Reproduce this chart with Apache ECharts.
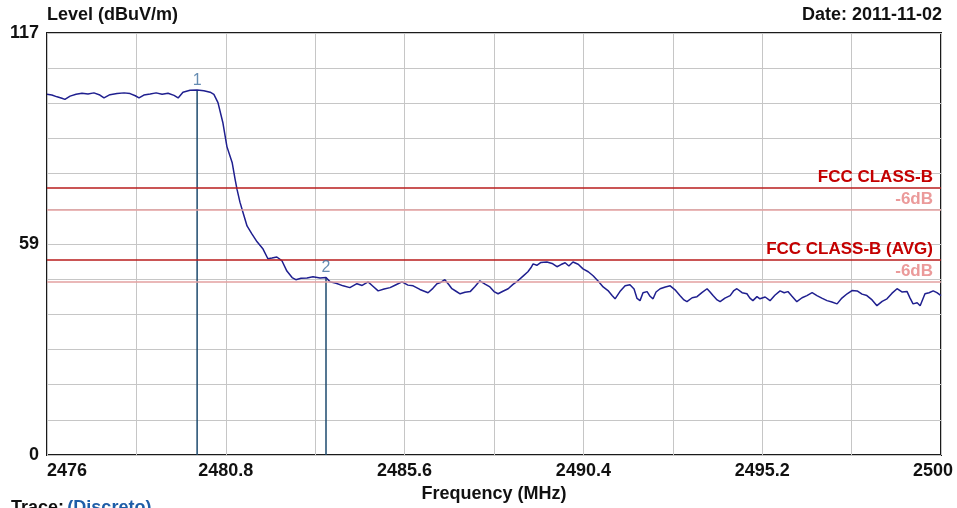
<!DOCTYPE html>
<html>
<head>
<meta charset="utf-8">
<script src="https://cdn.jsdelivr.net/npm/echarts@6/dist/echarts.min.js"></script>
<style>
  html, body { margin: 0; padding: 0; background: #fff; }
  #chart { width: 957px; height: 508px; }
</style>
</head>
<body>
<div id="chart"></div>
<script>
// trace readings (MHz, dBuV/m)
var freqs = [
  2476.00, 2476.13, 2476.27, 2476.40, 2476.48, 2476.62, 2476.78, 2476.94, 2477.10, 2477.26,
  2477.42, 2477.53, 2477.69, 2477.88, 2478.07, 2478.23, 2478.37, 2478.47, 2478.60, 2478.77,
  2478.93, 2479.09, 2479.25, 2479.41, 2479.52, 2479.65, 2479.84, 2480.03, 2480.21, 2480.38,
  2480.48, 2480.59, 2480.72, 2480.83, 2480.97, 2481.05, 2481.10, 2481.18, 2481.26, 2481.37,
  2481.50, 2481.64, 2481.80, 2481.93, 2482.04, 2482.17, 2482.31, 2482.44, 2482.58, 2482.68,
  2482.82, 2482.98, 2483.14, 2483.33, 2483.49, 2483.60, 2483.76, 2483.95, 2484.13, 2484.32,
  2484.46, 2484.62, 2484.75, 2484.89, 2485.05, 2485.21, 2485.37, 2485.53, 2485.69, 2485.83,
  2486.01, 2486.23, 2486.36, 2486.47, 2486.58, 2486.68, 2486.79, 2486.87, 2486.98, 2487.09,
  2487.22, 2487.36, 2487.49, 2487.62, 2487.76, 2487.89, 2488.00, 2488.11, 2488.24, 2488.38,
  2488.51, 2488.64, 2488.78, 2488.91, 2488.99, 2489.05, 2489.15, 2489.26, 2489.42, 2489.56,
  2489.69, 2489.80, 2489.91, 2490.01, 2490.12, 2490.26, 2490.39, 2490.53, 2490.66, 2490.80,
  2490.93, 2491.06, 2491.17, 2491.25, 2491.38, 2491.52, 2491.65, 2491.76, 2491.84, 2491.92,
  2492.00, 2492.11, 2492.19, 2492.27, 2492.35, 2492.46, 2492.60, 2492.73, 2492.86, 2492.99,
  2493.10, 2493.18, 2493.32, 2493.45, 2493.58, 2493.72, 2493.80, 2493.88, 2493.99, 2494.07,
  2494.20, 2494.34, 2494.44, 2494.52, 2494.66, 2494.79, 2494.87, 2494.95, 2495.06, 2495.14,
  2495.28, 2495.41, 2495.54, 2495.68, 2495.79, 2495.89, 2496.00, 2496.13, 2496.27, 2496.40,
  2496.54, 2496.67, 2496.80, 2496.94, 2497.07, 2497.21, 2497.34, 2497.48, 2497.61, 2497.75,
  2497.88, 2498.01, 2498.15, 2498.28, 2498.42, 2498.55, 2498.68, 2498.82, 2498.95, 2499.09,
  2499.17, 2499.25, 2499.36, 2499.44, 2499.57, 2499.68, 2499.79, 2499.89, 2500.00
];
var levels = [
  100.0, 99.8, 99.3, 98.9, 98.6, 99.5, 100.0, 100.3, 100.1, 100.4,
  99.8, 99.0, 99.9, 100.2, 100.4, 100.2, 99.6, 99.0, 99.8, 100.1,
  100.4, 100.0, 100.3, 99.7, 99.0, 100.6, 101.1, 101.2, 101.0, 100.6,
  100.0, 97.7, 92.2, 85.5, 81.1, 76.4, 73.7, 70.1, 67.3, 63.5,
  61.3, 59.1, 57.1, 54.4, 54.6, 54.9, 53.8, 51.0, 49.2, 48.6,
  49.0, 49.1, 49.4, 49.1, 49.2, 48.0, 47.6, 46.9, 46.4, 47.5,
  47.0, 48.0, 46.8, 45.5, 46.0, 46.4, 47.2, 48.0, 47.1, 46.9,
  45.9, 45.0, 46.2, 47.5, 47.9, 48.6, 47.2, 46.1, 45.4, 44.7,
  45.1, 45.3, 46.7, 48.3, 47.4, 46.6, 45.3, 44.7, 45.4, 46.1,
  47.3, 48.3, 49.6, 50.8, 51.9, 53.0, 52.6, 53.4, 53.5, 53.1,
  52.2, 52.8, 53.3, 52.4, 53.5, 52.9, 51.6, 50.8, 49.7, 48.2,
  46.6, 45.6, 44.2, 43.3, 45.3, 46.9, 47.2, 46.0, 43.4, 42.8,
  45.0, 45.3, 44.0, 43.3, 45.2, 46.1, 46.6, 46.9, 45.8, 44.2,
  43.0, 42.5, 43.6, 43.9, 45.0, 46.1, 45.2, 44.2, 43.0, 42.5,
  43.5, 44.2, 45.6, 46.1, 45.0, 44.7, 43.5, 42.8, 43.9, 43.3,
  43.8, 42.8, 44.3, 45.5, 45.0, 45.3, 44.0, 42.5, 43.6, 44.2,
  45.0, 44.2, 43.5, 42.8, 42.4, 41.9, 43.5, 44.7, 45.6, 45.5,
  44.6, 44.2, 43.0, 41.4, 42.6, 43.3, 44.8, 46.1, 45.2, 45.3,
  43.5, 41.9, 42.2, 41.4, 44.7, 45.0, 45.5, 45.0, 44.2
];

// markers
var markerFreqs = [2480.03, 2483.49];
var markerLevels = [101.2, 49.2];
var markerNames = ['1', '2'];

// limit lines
var limitNames = ['FCC CLASS-B', '-6dB', 'FCC CLASS-B (AVG)', '-6dB'];
var limitValues = [74, 68, 54, 48];

// axis labels
var xLabels = ['2476', '2480.8', '2485.6', '2490.4', '2495.2', '2500'];
var yLabels = ['0', '59', '117'];

var FONT = 'Liberation Sans, Arial, sans-serif';

var chart = echarts.init(document.getElementById('chart'));

var traceData = freqs.map(function (f, i) { return [f, levels[i]]; });

var limitLines = limitValues.map(function (v, i) {
    var main = limitNames[i] !== '-6dB';
    return {
        yAxis: v,
        lineStyle: { color: main ? '#b81c1c' : '#e3a0a0', width: 1.5, type: 'solid' },
        label: {
            show: true,
            formatter: limitNames[i],
            position: 'insideEndTop',
            distance: [8, 2],
            color: main ? '#c40000' : '#eb9a9a',
            fontWeight: 'bold',
            fontSize: 17,
            fontFamily: 'Liberation Sans Narrow, Arial Narrow, ' + FONT
        }
    };
});

var markerSeries = markerFreqs.map(function (f, i) {
    return {
        type: 'line',
        data: [[f, markerLevels[i]], [f, 0]],
        symbol: 'none',
        silent: true,
        lineStyle: { color: '#1d4a6e', width: 1.5 },
        z: 3
    };
});

// marker number labels
var markerLabelSeries = {
    type: 'scatter',
    data: markerFreqs.map(function (f, i) { return [f, markerLevels[i]]; }),
    symbolSize: 1,
    itemStyle: { color: 'rgba(0,0,0,0)' },
    silent: true,
    label: {
        show: true,
        position: 'top',
        distance: 1,
        formatter: function (p) { return markerNames[p.dataIndex]; },
        color: '#3f6f9f',
        fontSize: 16,
        fontFamily: FONT
    },
    z: 5
};

var option = {
    backgroundColor: '#fff',
    animation: false,
    grid: {
        left: 47, right: 16, top: 33, bottom: 51,
        show: true,
        borderColor: '#1a1a1a',
        borderWidth: 2,
        backgroundColor: '#fff'
    },
    xAxis: {
        type: 'value',
        min: 2476, max: 2500, interval: 2.4,
        name: 'Frequency (MHz)',
        nameLocation: 'middle',
        nameGap: 30,
        nameTextStyle: { fontSize: 18, fontWeight: 'bold', color: '#111', fontFamily: FONT },
        axisLine: { show: false },
        axisTick: { show: false },
        splitLine: { show: true, lineStyle: { color: '#c6c6c6', width: 1 } },
        axisLabel: {
            margin: 7,
            fontSize: 18,
            fontWeight: 'bold',
            color: '#111',
            fontFamily: FONT,
            showMinLabel: true,
            showMaxLabel: true,
            alignMinLabel: 'left',
            formatter: function (v, idx) {
                if (idx % 2 !== 0) return '';
                var s = xLabels[idx / 2];
                return idx === 10 ? '{m|' + s + '}' : s;
            },
            rich: {
                m: { fontSize: 18, fontWeight: 'bold', color: '#111', fontFamily: FONT, padding: [0, 16, 0, 0] }
            }
        }
    },
    yAxis: {
        type: 'value',
        min: 0, max: 117, interval: 9.75,
        axisLine: { show: false },
        axisTick: { show: false },
        splitLine: { show: true, lineStyle: { color: '#c6c6c6', width: 1 } },
        axisLabel: {
            margin: 8,
            fontSize: 18,
            fontWeight: 'bold',
            color: '#111',
            fontFamily: FONT,
            showMinLabel: true,
            showMaxLabel: true,
            formatter: function (v, idx) {
                if (idx === 0) return yLabels[0];
                if (idx === 6) return yLabels[1];
                if (idx === 12) return yLabels[2];
                return '';
            }
        }
    },
    graphic: [
        {
            type: 'text', left: 47, top: 6,
            style: { text: 'Level (dBuV/m)', font: 'bold 18px ' + FONT, fill: '#111' }
        },
        {
            type: 'text', right: 15, top: 6,
            style: { text: 'Date: 2011-11-02', font: 'bold 18px ' + FONT, fill: '#111' }
        },
        {
            type: 'text', left: 11, top: 499,
            style: {
                text: '{a|Trace:} {b|(Discreto)}',
                rich: {
                    a: { font: 'bold 18px ' + FONT, fill: '#111' },
                    b: { font: 'bold 18px ' + FONT, fill: '#1f5ea8' }
                }
            }
        }
    ],
    series: [
        {
            name: 'Trace',
            type: 'line',
            data: traceData,
            symbol: 'none',
            lineStyle: { color: '#1f1f8f', width: 1.5 },
            z: 4,
            markLine: {
                silent: true,
                symbol: 'none',
                animation: false,
                data: limitLines
            }
        }
    ].concat(markerSeries, [markerLabelSeries])
};

chart.setOption(option);
</script>
</body>
</html>
